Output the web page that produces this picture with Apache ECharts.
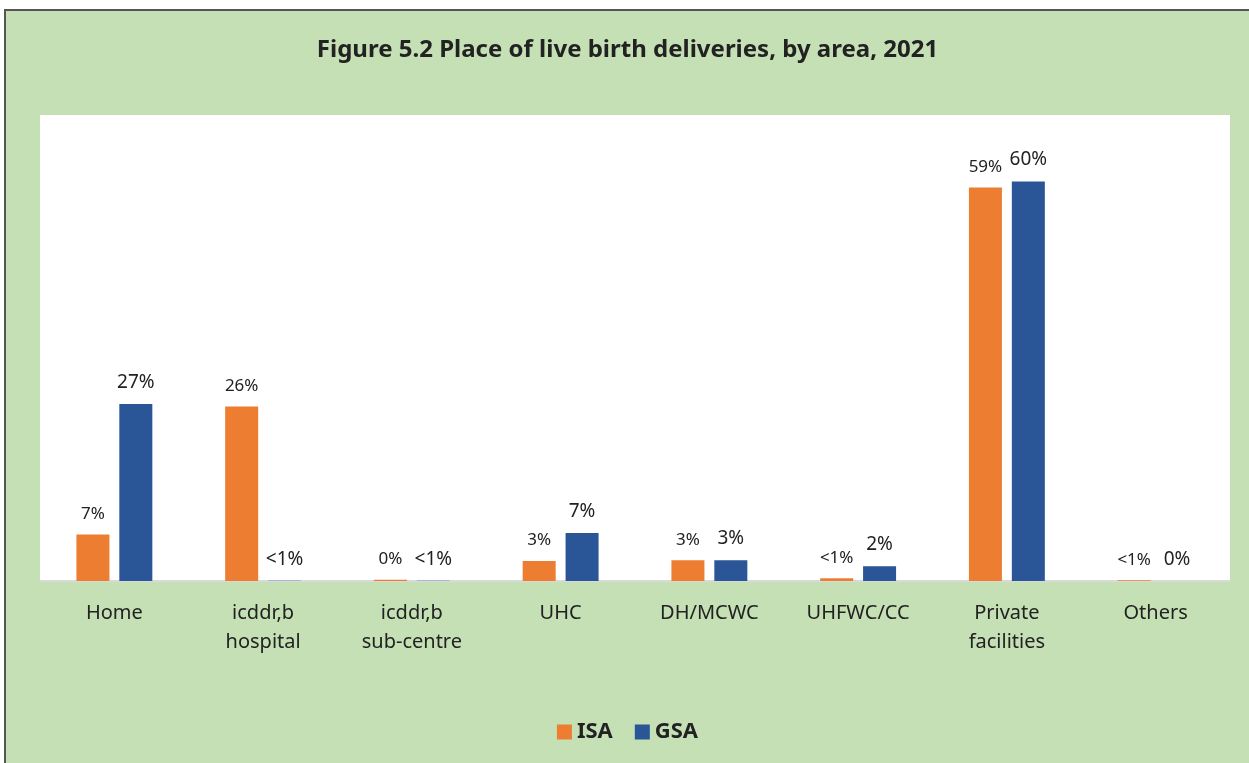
<!DOCTYPE html>
<html>
<head>
<meta charset="utf-8">
<script src="https://cdn.jsdelivr.net/npm/echarts@6/dist/echarts.min.js"></script>
<style>
body { margin: 0; background: #fff; }
#chart {
    position: absolute;
    left: 4px;
    top: 9px;
    width: 1245px;
    height: 754px;
    box-sizing: border-box;
    border-top: 2px solid #555;
    border-left: 2px solid #555;
}
</style>
</head>
<body>
<div id="chart"></div>
<script>
// place of delivery categories
const categories = ['Home', 'icddr,b\nhospital', 'icddr,b\nsub-centre', 'UHC', 'DH/MCWC', 'UHFWC/CC', 'Private\nfacilities', 'Others'];

// percentages
const isaValues = [7, 26.2, 0.2, 3, 3.1, 0.4, 59.1, 0.1];
const gsaValues = [26.6, 0.02, 0.02, 7.2, 3.1, 2.2, 60, 0];

// printed labels (as shown in the figure)
const isaLabels = ['7%', '26%', '0%', '3%', '3%', '<1%', '59%', '<1%'];
const gsaLabels = ['27%', '<1%', '<1%', '7%', '3%', '2%', '60%', '0%'];

const font = "'Noto Sans', sans-serif";

let chart = echarts.init(document.getElementById('chart'));

let option = {
    backgroundColor: '#C5E0B4',
    textStyle: { fontFamily: font },
    title: {
        text: 'Figure 5.2 Place of live birth deliveries, by area, 2021',
        left: 'center',
        top: 22,
        textStyle: { fontFamily: font, fontSize: 24, fontWeight: 'bold', color: '#222' }
    },
    legend: {
        bottom: 15,
        left: 'center',
        icon: 'rect',
        itemWidth: 15,
        itemHeight: 15,
        itemGap: 22,
        textStyle: { fontFamily: font, fontSize: 22, fontWeight: 'bold', color: '#222' },
        data: ['ISA', 'GSA']
    },
    grid: {
        show: true,
        backgroundColor: '#fff',
        borderWidth: 0,
        left: 34,
        right: 19,
        top: 104,
        bottom: 182,
        containLabel: false
    },
    xAxis: {
        type: 'category',
        data: categories,
        axisLine: { lineStyle: { color: '#D9D9D9', width: 2 } },
        axisTick: { show: false },
        axisLabel: {
            fontFamily: font,
            fontSize: 20,
            color: '#222',
            margin: 18,
            lineHeight: 29,
            interval: 0
        }
    },
    yAxis: {
        type: 'value',
        min: 0,
        max: 70,
        show: false,
        splitLine: { show: false }
    },
    series: [
        {
            name: 'ISA',
            type: 'bar',
            barWidth: 33,
            barGap: '30%',
            itemStyle: { color: '#ED7D31' },
            label: {
                show: true,
                position: 'top',
                distance: 12,
                fontFamily: font,
                fontSize: 17,
                color: '#222',
                formatter: p => isaLabels[p.dataIndex]
            },
            data: isaValues
        },
        {
            name: 'GSA',
            type: 'bar',
            barWidth: 33,
            barGap: '30%',
            itemStyle: { color: '#2A5597' },
            label: {
                show: true,
                position: 'top',
                distance: 12,
                fontFamily: font,
                fontSize: 19,
                color: '#222',
                formatter: p => gsaLabels[p.dataIndex]
            },
            data: gsaValues
        }
    ]
};

chart.setOption(option);
</script>
</body>
</html>
